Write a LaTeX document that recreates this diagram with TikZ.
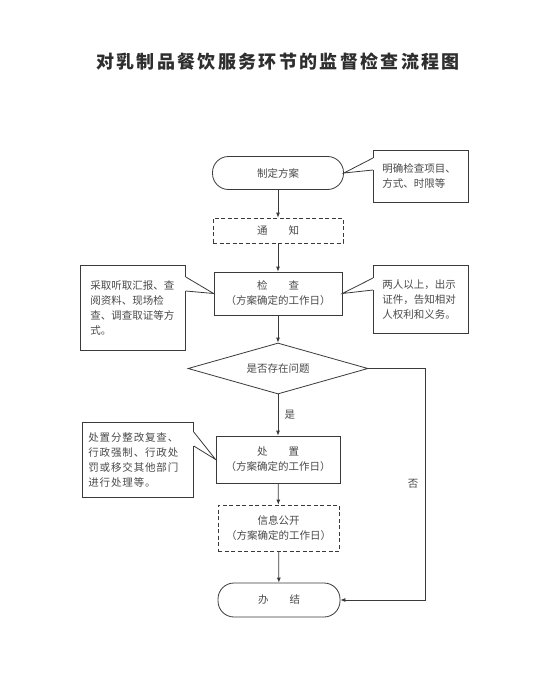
\documentclass[tikz,border=0pt]{standalone}
\usepackage{fontspec}
\setmainfont{Noto Sans CJK SC}
\usetikzlibrary{shapes.geometric,arrows.meta,calc}
\definecolor{ln}{HTML}{3A3A3A}
\definecolor{tx}{HTML}{4A4A4A}
\definecolor{tt}{HTML}{2E2E2E}
\begin{document}
\begin{tikzpicture}[x=1pt,y=-1pt,
  every node/.style={font=\fontsize{10.5}{15}\selectfont, text=tx},
  proc/.style={draw=ln, line width=0.8pt, align=center, inner sep=0pt},
  dproc/.style={proc, dash pattern=on 4pt off 2.5pt},
  term/.style={proc, rounded corners=16pt},
  note/.style={draw=ln, line width=0.8pt, anchor=north west, align=left, fill=white},
  arr/.style={draw=ln, line width=0.8pt, -{Latex[length=5pt,width=4pt]}},
  lnk/.style={draw=ln, line width=0.8pt},
  ]
\useasboundingbox[fill=white] (0,0) rectangle (554,685);

% title
\node[text=tt] (title) at (278,62) {\fontsize{18}{18}\selectfont\bfseries\addfontfeatures{LetterSpace=13}对乳制品餐饮服务环节的监督检查流程图};

% main flow
\node[term, minimum width=131pt, minimum height=33pt] (a) at (278,173) {制定方案};
\node[dproc, minimum width=130pt, minimum height=25pt] (b) at (278,230.5) {通\hspace{2em}知};
\node[proc, minimum width=128pt, minimum height=43pt] (c) at (278,293.5) {检\hspace{2em}查\\（方案确定的工作日）};
\node[proc, diamond, aspect=3.5, minimum width=180pt, minimum height=51pt] (d) at (278,368.5) {是否存在问题};
\node[proc, minimum width=124pt, minimum height=47pt] (e) at (278,459.5) {处\hspace{2em}置\\（方案确定的工作日）};
\node[dproc, minimum width=121pt, minimum height=46pt] (f) at (278.5,528) {信息公开\\（方案确定的工作日）};
\node[term, minimum width=122pt, minimum height=34pt] (g) at (279,600) {办\hspace{2em}结};

% notes
\node[note, minimum width=95pt, minimum height=52pt, inner xsep=9pt, inner ysep=0pt, text width=77pt] (n1) at (373,150) {明确检查项目、\\方式、时限等};
\node[note, minimum width=105pt, minimum height=85pt, inner xsep=10pt, inner ysep=0pt, text width=85pt] (n2) at (80,265) {采取听取汇报、查\\阅资料、现场检\\查、调查取证等方\\式。};
\node[note, minimum width=95pt, minimum height=68pt, inner xsep=9pt, inner ysep=0pt, text width=77pt] (n3) at (373,265) {两人以上，出示\\证件，告知相对\\人权利和义务。};
\node[note, minimum width=111pt, minimum height=75pt, inner xsep=6pt, inner ysep=0pt, text width=99pt] (n4) at (82,422) {\addfontfeatures{LetterSpace=8}处置分整改复查、\\行政强制、行政处\\罚或移交其他部门\\进行处理等。};

% note pointers
\fill[white] ($(n1.north west)+(-0.6,8)$) rectangle ($(n1.north west)+(0.6,20)$);
\draw[lnk] ($(n1.north west)+(0,8)$) -- (a.east) -- ($(n1.north west)+(0,20)$);
\fill[white] ($(n2.north east)+(-0.6,12)$) rectangle ($(n2.north east)+(0.6,26)$);
\draw[lnk] ($(n2.north east)+(0,12)$) -- (c.west) -- ($(n2.north east)+(0,26)$);
\fill[white] ($(n3.north west)+(-0.6,13)$) rectangle ($(n3.north west)+(0.6,25)$);
\draw[lnk] ($(n3.north west)+(0,13)$) -- (c.east) -- ($(n3.north west)+(0,25)$);
\fill[white] ($(n4.north east)+(-0.6,10)$) rectangle ($(n4.north east)+(0.6,24)$);
\draw[lnk] ($(n4.north east)+(0,10)$) -- (e.west) -- ($(n4.north east)+(0,24)$);

% arrows
\draw[arr] (a) -- (b);
\draw[arr] (b) -- (c);
\draw[arr] (c) -- (d);
\draw[arr] (d) -- node[right, xshift=3pt] (yes) {是} (e);
\draw[arr] (e) -- (f);
\draw[arr] (f) -- (g);
\coordinate (k) at (425,600);
\draw[arr] (d.east) -| (k) -- (g.east);
\node (no) at (413,484) {否};
\end{tikzpicture}
\end{document}
